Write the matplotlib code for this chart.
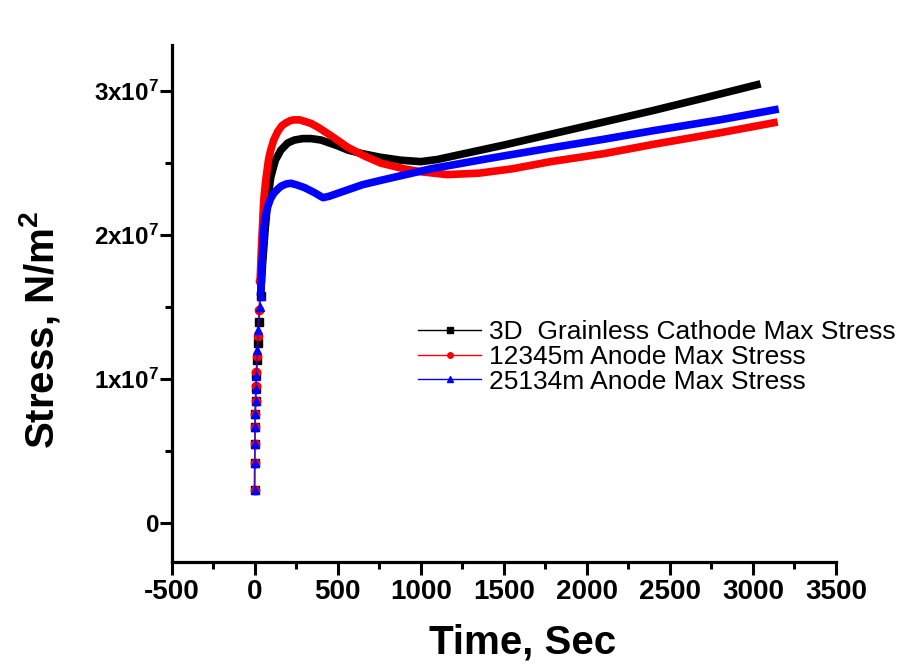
import matplotlib
matplotlib.use('Agg')
import matplotlib.pyplot as plt
from matplotlib.lines import Line2D
from matplotlib.ticker import MultipleLocator, FuncFormatter

plt.rcParams['font.family'] = ['Liberation Sans', 'DejaVu Sans']
plt.rcParams['mathtext.fontset'] = 'custom'
plt.rcParams['mathtext.rm'] = 'Liberation Sans:bold'
plt.rcParams['mathtext.it'] = 'Liberation Sans:bold'
plt.rcParams['mathtext.bf'] = 'Liberation Sans:bold'
plt.rcParams['axes.unicode_minus'] = False

# values
t_black = [0, 1, 2, 3, 4, 6, 8, 11, 15, 20, 27, 36, 48, 62, 79, 97, 125, 158, 200,
           240, 290, 340, 400, 450, 500, 563, 650, 759, 880, 1000, 1100, 1200, 1500,
           1782, 2083, 2400, 2700, 3046]
s_black = [2.3e6, 4.2e6, 5.5e6, 6.7e6, 7.6e6, 8.5e6, 9.4e6, 1.03e7, 1.13e7, 1.25e7,
           1.40e7, 1.58e7, 1.80e7, 2.02e7, 2.24e7, 2.40e7, 2.52e7, 2.59e7, 2.64e7,
           2.66e7, 2.67e7, 2.67e7, 2.66e7, 2.64e7, 2.62e7, 2.59e7, 2.565e7, 2.54e7,
           2.52e7, 2.51e7, 2.525e7, 2.55e7, 2.625e7, 2.70e7, 2.78e7, 2.865e7, 2.95e7,
           3.05e7]

t_red = [0, 1, 2, 3, 4, 6, 8, 11, 15, 20, 26, 33, 42, 55, 65, 75, 85, 97, 115, 140,
         165, 190, 215, 236, 270, 300, 340, 380, 420, 460, 510, 560, 610, 660, 710,
         759, 830, 900, 1000, 1160, 1350, 1550, 1782, 2100, 2400, 2800, 3149]
s_red = [2.3e6, 4.2e6, 5.5e6, 6.7e6, 7.6e6, 8.5e6, 9.5e6, 1.05e7, 1.16e7, 1.30e7,
         1.48e7, 1.68e7, 1.93e7, 2.24e7, 2.36e7, 2.45e7, 2.53e7, 2.59e7, 2.66e7,
         2.72e7, 2.76e7, 2.78e7, 2.795e7, 2.80e7, 2.80e7, 2.79e7, 2.775e7, 2.75e7,
         2.72e7, 2.69e7, 2.65e7, 2.61e7, 2.58e7, 2.55e7, 2.525e7, 2.50e7, 2.48e7,
         2.46e7, 2.44e7, 2.42e7, 2.43e7, 2.46e7, 2.51e7, 2.565e7, 2.63e7, 2.71e7,
         2.785e7]

t_blue = [0, 1, 2, 3, 4, 6, 8, 11, 16, 22, 30, 36, 54, 65, 80, 95, 115, 140, 160,
          190, 218, 250, 300, 360, 412, 450, 500, 550, 650, 759, 1060, 1400, 1782,
          2100, 2400, 2800, 3155]
s_blue = [2.3e6, 4.2e6, 5.5e6, 6.7e6, 7.6e6, 8.5e6, 9.3e6, 1.02e7, 1.20e7, 1.34e7,
          1.50e7, 1.58e7, 2.03e7, 2.13e7, 2.20e7, 2.25e7, 2.29e7, 2.32e7, 2.34e7,
          2.355e7, 2.36e7, 2.35e7, 2.33e7, 2.295e7, 2.26e7, 2.27e7, 2.29e7, 2.31e7,
          2.35e7, 2.38e7, 2.46e7, 2.53e7, 2.605e7, 2.665e7, 2.725e7, 2.80e7, 2.875e7]

labels = ['3D  Grainless Cathode Max Stress', '12345m Anode Max Stress', '25134m Anode Max Stress']
colors = ['black', 'red', 'blue']
markers = ['s', 'o', '^']

fig = plt.figure(figsize=(9.09, 6.67), dpi=100)
ax = fig.add_axes([0.1887, 0.1574, 0.731, 0.775])

handles = []
for t, s, c, m, lab in zip([t_black, t_red, t_blue], [s_black, s_red, s_blue],
                           colors, markers, labels):
    n0 = 12
    ax.plot(t[n0 - 1:], s[n0 - 1:], color=c, lw=5.5, solid_capstyle='butt',
            solid_joinstyle='round')
    ax.plot(t[:n0 + 1], s[:n0 + 1], color=c, lw=1.2, alpha=0.6)
    ax.plot(t[:n0], s[:n0], ls='none', marker=m, color=c, ms=6)
    handles.append(Line2D([], [], color=c, lw=1, marker=m, ms=4, label=lab))

ax.set_xlim(-500, 3500)
ax.set_ylim(-2.69e6, 3.319e7)
ax.xaxis.set_major_locator(MultipleLocator(500))
ax.xaxis.set_minor_locator(MultipleLocator(250))
ax.yaxis.set_major_locator(MultipleLocator(1e7))
ax.yaxis.set_minor_locator(MultipleLocator(5e6))


def yfmt(v, pos):
    if abs(v) < 1:
        return '0'
    return '%gx10$^{7}$' % (v / 1e7)


ax.yaxis.set_major_formatter(FuncFormatter(yfmt))

for side in ['top', 'right']:
    ax.spines[side].set_visible(False)
for side in ['left', 'bottom']:
    ax.spines[side].set_linewidth(2.3)

ax.tick_params(which='major', direction='out', length=9, width=2.2)
ax.tick_params(which='minor', direction='out', length=5, width=2.2)
ax.tick_params(axis='x', which='major', labelsize=20, pad=3)
ax.tick_params(axis='y', which='major', labelsize=17.5, pad=0)
for lab in ax.get_xticklabels() + ax.get_yticklabels():
    lab.set_fontweight('bold')

ax.set_xlabel('Time, Sec', fontsize=29, fontweight='bold', va='center')
ax.xaxis.set_label_coords(0.529, -0.155)
ax.set_ylabel('Stress, N/m$^2$', fontsize=29, fontweight='bold', va='center')
ax.yaxis.set_label_coords(-0.198, 0.449)

ax.legend(handles=handles, loc='upper left', bbox_to_anchor=(418 / 909, 1 - 320 / 667),
          bbox_transform=fig.transFigure, frameon=False, fontsize=19,
          handlelength=2.4, handletextpad=0.3, labelspacing=0.03, borderpad=0,
          borderaxespad=0)

fig.savefig('out.png', dpi=100)
